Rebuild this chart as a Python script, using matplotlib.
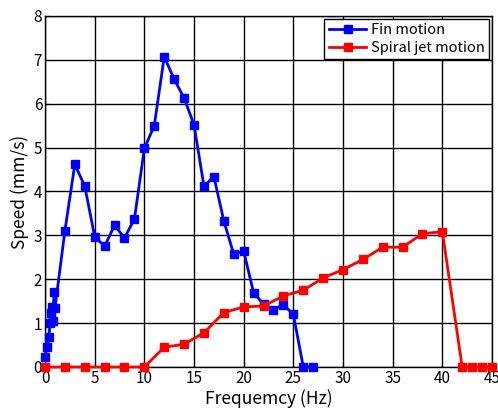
import matplotlib.pyplot as plt

plt.rcParams['font.family'] = ['Noto Sans CJK JP', 'DejaVu Sans']

fin_freq = [0, 0.2, 0.4, 0.5, 0.6, 0.7, 0.8, 0.9, 1.0, 2, 3, 4, 5, 6, 7, 8, 9, 10,
            11, 12, 13, 14, 15, 16, 17, 18, 19, 20, 21, 22, 23, 24, 25, 26, 27]
fin_speed = [0.23, 0.45, 0.68, 1.0, 1.22, 1.37, 1.05, 1.72, 1.34, 3.1, 4.62, 4.12,
             2.97, 2.75, 3.23, 2.94, 3.37, 4.98, 5.5, 7.07, 6.56, 6.13, 5.52, 4.12,
             4.34, 3.33, 2.57, 2.64, 1.69, 1.43, 1.31, 1.42, 1.2, 0, 0]

jet_freq = [0, 2, 4, 6, 8, 10, 12, 14, 16, 18, 20, 22, 24, 26, 28, 30, 32, 34, 36,
            38, 40, 42, 43, 44, 45]
jet_speed = [0, 0, 0, 0, 0, 0, 0.45, 0.52, 0.78, 1.24, 1.37, 1.39, 1.62, 1.75, 2.03,
             2.22, 2.45, 2.73, 2.73, 3.04, 3.08, 0, 0, 0, 0]

fig = plt.figure(figsize=(4.98, 4.09), dpi=100)
ax = fig.add_axes([0.0904, 0.1027, 0.8976, 0.8583])

ax.plot(fin_freq, fin_speed, '-s', color='#0000ff', linewidth=2, markersize=6,
        label='Fin motion', clip_on=False, zorder=3)
ax.plot(jet_freq, jet_speed, '-s', color='#ff0000', linewidth=2, markersize=6,
        label='Spiral jet motion', clip_on=False, zorder=3)

ax.set_xlim(0, 45)
ax.set_ylim(0, 8)
ax.set_xticks(range(0, 46, 5))
ax.set_yticks(range(0, 9))
ax.grid(True, color='black', linewidth=1, linestyle='-')
ax.tick_params(direction='in', labelsize=11, colors='black', pad=2)
for s in ax.spines.values():
    s.set_color('black')
    s.set_linewidth(1)

ax.set_xlabel('Frequemcy (Hz)', fontsize=12.5, labelpad=2)
ax.set_ylabel('Speed (mm/s)', fontsize=12.5, labelpad=3)

leg = ax.legend(loc='upper right', fontsize=10.5, fancybox=False, framealpha=1,
                edgecolor='black', borderaxespad=0.2, handlelength=2.6,
                borderpad=0.3, labelspacing=0.25, handletextpad=0.3)
leg.get_frame().set_linewidth(1)

fig.savefig('out.png', dpi=100)
